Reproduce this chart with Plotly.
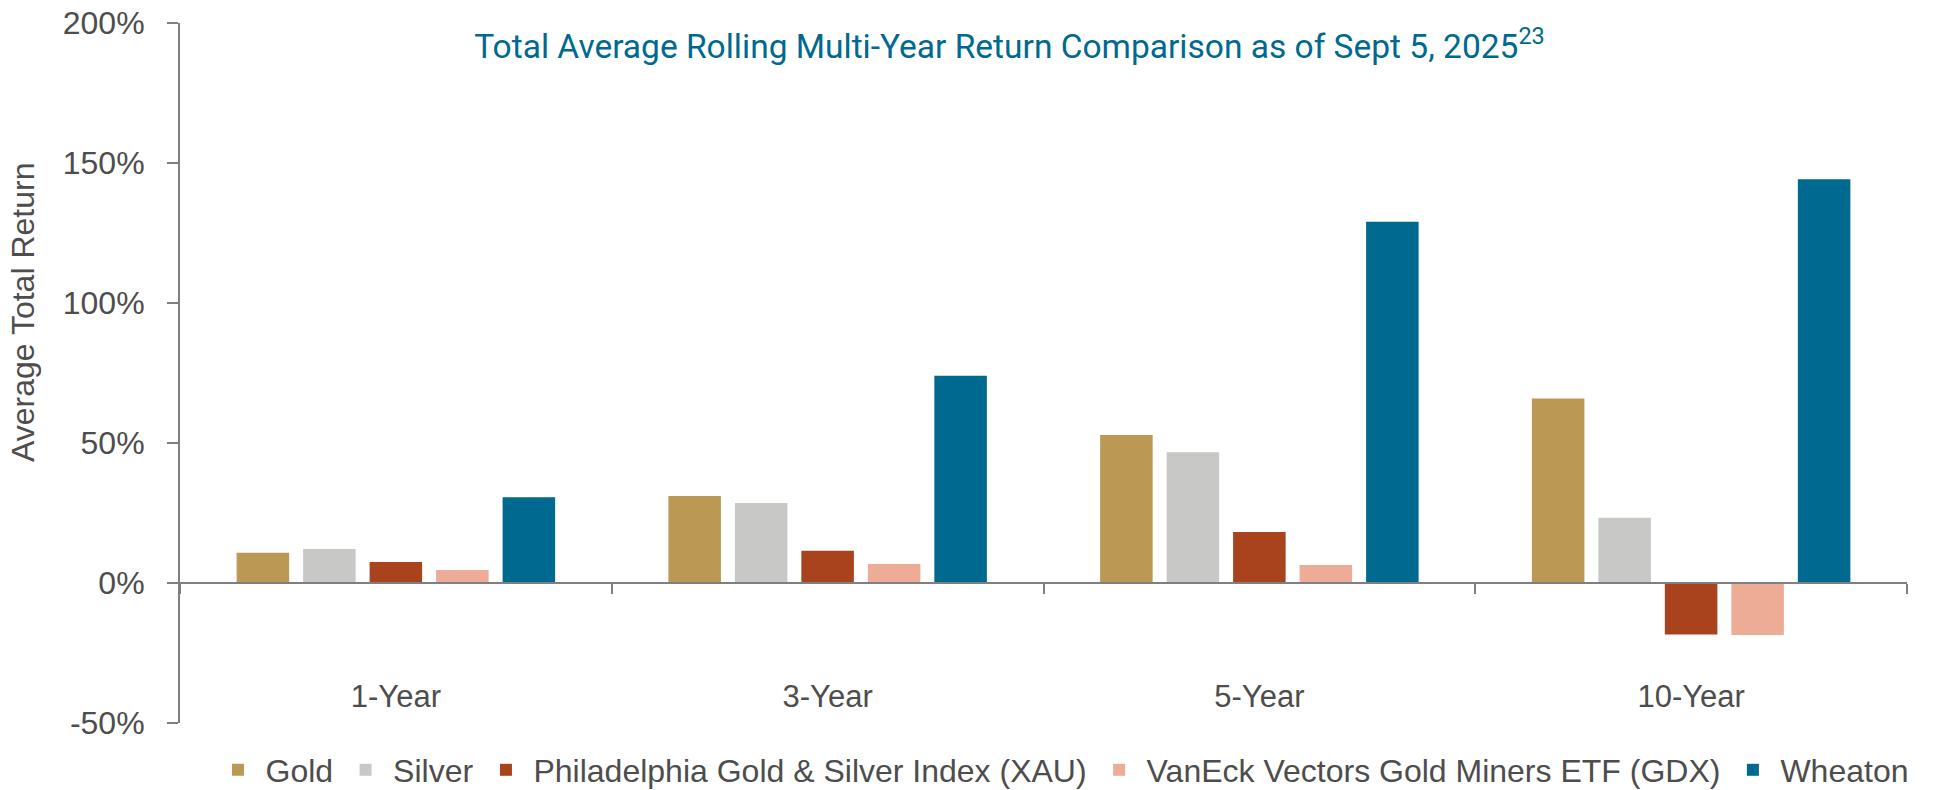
import plotly.graph_objects as go

categories = ["1-Year", "3-Year", "5-Year", "10-Year"]
series_names = ["Gold", "Silver", "Philadelphia Gold & Silver Index (XAU)",
                "VanEck Vectors Gold Miners ETF (GDX)", "Wheaton"]
gold = [10.8, 31.1, 52.9, 65.9]
silver = [12.1, 28.6, 46.7, 23.3]
xau = [7.5, 11.5, 18.2, -18.4]
gdx = [4.6, 6.8, 6.4, -18.6]
wheaton = [30.6, 74.0, 129.0, 144.2]
colors = ["#BB9954", "#C8C9C6", "#A9431E", "#EDAC96", "#00698F"]
y_ticks = [-50, 0, 50, 100, 150, 200]

W, H = 1938, 790
ML, MR, MT, MB = 180, 31, 23, 67
TEXT = "#4d4d4d"
AX = "#7f7f7f"
FONT = "Liberation Sans, Arial, sans-serif"

fig = go.Figure()
for name, vals, col in zip(series_names, [gold, silver, xau, gdx, wheaton], colors):
    fig.add_trace(go.Bar(x=categories, y=vals, name=name, marker_color=col,
                         marker_line_width=0))

y0 = y_ticks[0]
y1 = y_ticks[-1]
zero_pos = (0 - y0) / (y1 - y0)

fig.update_layout(
    width=W, height=H, autosize=False,
    margin=dict(l=ML, r=MR, t=MT, b=MB, pad=0, autoexpand=False),
    paper_bgcolor="white", plot_bgcolor="white",
    barmode="group", bargap=0.23, bargroupgap=0.21,
    font=dict(family=FONT, size=32, color=TEXT),
    title=dict(text="Total Average Rolling Multi-Year Return Comparison as of Sept 5, 2025<sup>23</sup>",
               x=1009.5 / W, xref="container", xanchor="center",
               y=1 - 46 / H, yref="container", yanchor="middle",
               font=dict(family="Roboto, sans-serif", size=33.5, color="#00698F")),
    xaxis=dict(anchor="free", position=zero_pos, showline=True, linecolor=AX, linewidth=2,
               ticks="outside", tickson="boundaries", ticklen=10, tickwidth=2, tickcolor=AX,
               showgrid=False, zeroline=False, ticklabelstandoff=86, automargin=False,
               tickfont=dict(size=31, color=TEXT)),
    yaxis=dict(range=[y0, y1], tickvals=y_ticks, ticktext=[f"{v}%" for v in y_ticks],
               showline=True, linecolor=AX, linewidth=2, ticks="outside", ticklen=11,
               tickwidth=2, tickcolor=AX, showgrid=False, zeroline=False, automargin=False,
               ticklabelstandoff=16, tickfont=dict(size=32, color=TEXT)),
    legend=dict(orientation="h", xref="container", yref="container",
                x=1062 / W, xanchor="center",
                y=1 - 770 / H, yanchor="middle",
                font=dict(size=32, color=TEXT), itemwidth=45, tracegroupgap=0),
    showlegend=True,
)

fig.add_annotation(text="Average Total Return", textangle=-90, xref="paper", yref="paper",
                   x=(23 - ML) / (W - ML - MR), y=(H - MB - 313) / (H - MT - MB),
                   xanchor="center", yanchor="middle", showarrow=False,
                   font=dict(size=32, color=TEXT, family=FONT))

fig.write_html("out.html", config={"displayModeBar": False},
               post_script="document.body.style.margin='0';document.body.style.overflow='hidden';")
